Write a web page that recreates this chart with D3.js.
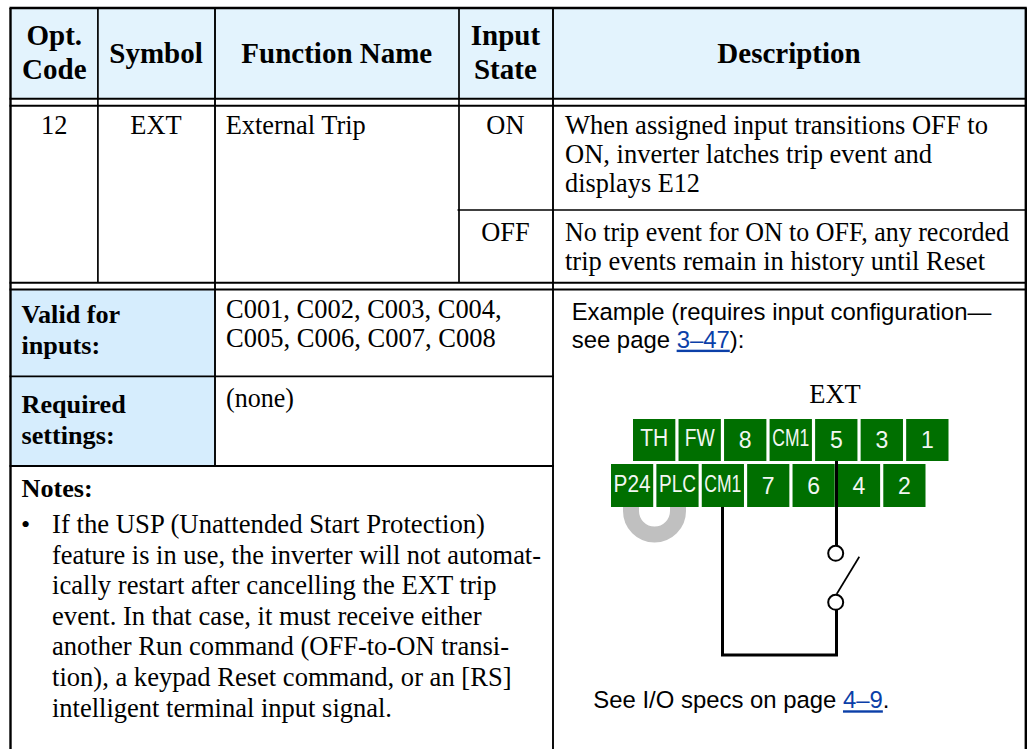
<!DOCTYPE html>
<meta charset="utf-8">
<script src="https://d3js.org/d3.v7.min.js"></script>
<style>
  body { margin: 0; background: #fff; }
  svg { display: block; }
  text { font-family: "Liberation Serif", serif; fill: #000; }
  .sans { font-family: "Liberation Sans", sans-serif; }
</style>
<div id="screen"></div>
<script>

  // table text
  var headers = ["Opt.|Code", "Symbol", "Function Name", "Input|State", "Description"];
  var rowCells = ["12", "EXT", "External Trip"];
  var inputStates = ["ON", "OFF"];
  var stateDescriptions = [
    ["When assigned input transitions OFF to", "ON, inverter latches trip event and", "displays E12"],
    ["No trip event for ON to OFF, any recorded", "trip events remain in history until Reset"]
  ];
  var sideLabels = ["Valid for|inputs:", "Required|settings:"];
  var sideValues = ["C001, C002, C003, C004,|C005, C006, C007, C008", "(none)"];
  var notesTitle = "Notes:";
  var noteLines = [
    "If the USP (Unattended Start Protection)",
    "feature is in use, the inverter will not automat-",
    "ically restart after cancelling the EXT trip",
    "event. In that case, it must receive either",
    "another Run command (OFF-to-ON transi-",
    "tion), a keypad Reset command, or an [RS]",
    "intelligent terminal input signal."
  ];

  // terminal strip
  var topTerminals = ["TH", "FW", "8", "CM1", "5", "3", "1"];
  var bottomTerminals = ["P24", "PLC", "CM1", "7", "6", "4", "2"];

  var width = 1028, height = 749;

  var colX = d3.scaleOrdinal()
      .domain(["left", "code", "symbol", "state", "split", "right"])
      .range([10.5, 97.9, 215, 459, 553, 1025.8]);
  var rowY = d3.scaleOrdinal()
      .domain(["top", "headBottom", "bodyTop", "stateSplit", "bodyBottom", "lowerTop", "valid", "required", "bottom"])
      .range([8, 98.7, 105.8, 210, 282.7, 289.5, 376.3, 466, 749]);
  var colCentre = d3.scaleOrdinal().domain(d3.range(5)).range([54.3, 156, 336.8, 505.4, 789]);

  // measured line lengths, the source text is set a bit looser than ours
  var descLength = d3.scaleOrdinal()
      .domain(stateDescriptions[0].concat(stateDescriptions[1]))
      .range([423, 367, 135, 444, 420]);
  var noteLength = d3.scaleOrdinal().domain(noteLines).range([433, 489, 444.5, 429.5, 457, 459.5, 340]);
  var valueLength = d3.scaleOrdinal()
      .domain(["C001, C002, C003, C004,", "C005, C006, C007, C008", "(none)"])
      .range([275.7, 269.7, 68]);

  var svg = d3.select("#screen")
      .append("svg")
      .attr("width", width)
      .attr("height", height);

  function rect(x0, y0, x1, y1, fill) {
      svg.append("rect")
          .attr("x", colX(x0)).attr("y", rowY(y0))
          .attr("width", colX(x1) - colX(x0))
          .attr("height", rowY(y1) - rowY(y0))
          .attr("fill", fill);
  }
  function hline(y, x0, x1, w) {
      svg.append("line")
          .attr("x1", colX(x0) - 1).attr("x2", colX(x1) + 1)
          .attr("y1", rowY(y)).attr("y2", rowY(y))
          .attr("stroke", "#000").attr("stroke-width", w);
  }
  function vline(x, y0, y1, w) {
      svg.append("line")
          .attr("x1", colX(x)).attr("x2", colX(x))
          .attr("y1", rowY(y0)).attr("y2", rowY(y1))
          .attr("stroke", "#000").attr("stroke-width", w);
  }
  function label(str, x, y, size, opts) {
      opts = opts || {};
      var t = svg.append("text")
          .attr("x", x).attr("y", y)
          .attr("font-size", size)
          .attr("font-weight", opts.bold ? "bold" : null)
          .attr("text-anchor", opts.anchor || "start")
          .attr("class", opts.sans ? "sans" : null)
          .text(str);
      if (opts.length) t.attr("textLength", opts.length).attr("lengthAdjust", "spacingAndGlyphs");
      return t;
  }

  // cell fills
  rect("left", "top", "right", "headBottom", "#e3f3fd");
  rect("left", "lowerTop", "symbol", "required", "#d6edfd");

  // ruling
  hline("top", "left", "right", 2.4);
  hline("headBottom", "left", "right", 2);
  hline("bodyTop", "left", "right", 2);
  hline("bodyBottom", "left", "right", 2);
  hline("lowerTop", "left", "right", 2);
  hline("valid", "left", "split", 1.8);
  hline("required", "left", "split", 1.8);
  svg.append("line")
      .attr("x1", colX("state") - 1.5).attr("x2", colX("right"))
      .attr("y1", rowY("stateSplit")).attr("y2", rowY("stateSplit"))
      .attr("stroke", "#000").attr("stroke-width", 1.3);

  vline("left", "top", "bottom", 2.4);
  vline("right", "top", "bottom", 2.4);
  vline("code", "top", "bodyBottom", 1.7);
  vline("symbol", "top", "required", 1.9);
  vline("state", "top", "bodyBottom", 1.7);
  vline("split", "top", "bottom", 1.9);

  // header row
  headers.forEach(function(h, i) {
      var parts = h.split("|");
      parts.forEach(function(p, k) {
          var y = parts.length > 1 ? 45 + k * 34.3 : 62.7;
          label(p, colCentre(i), y, 29, {bold: true, anchor: "middle"});
      });
  });

  // EXT row
  label(rowCells[0], colCentre(0), 133.5, 26.4, {anchor: "middle"});
  label(rowCells[1], colCentre(1), 133.5, 26.4, {anchor: "middle"});
  label(rowCells[2], 225.7, 133.5, 26.4);
  var stateY = d3.scaleOrdinal().domain(inputStates).range([133.5, 240.5]);
  inputStates.forEach(function(s, i) {
      label(s, colCentre(3), stateY(s), 26.4, {anchor: "middle"});
      stateDescriptions[i].forEach(function(line, k) {
          label(line, 565, stateY(s) + k * 29, 26.4, {length: descLength(line)});
      });
  });

  // lower left
  var sideLabelY = d3.scaleOrdinal().domain(sideLabels).range([322.7, 412.7]);
  var sideValueY = d3.scaleOrdinal().domain(sideValues).range([317.5, 407]);
  sideLabels.forEach(function(s) {
      s.split("|").forEach(function(p, k) {
          label(p, 21.5, sideLabelY(s) + k * 31, 26.2, {bold: true});
      });
  });
  sideValues.forEach(function(s) {
      s.split("|").forEach(function(p, k) {
          label(p, 226, sideValueY(s) + k * 29.5, 26.4, {length: valueLength(p)});
      });
  });

  label(notesTitle, 21.5, 496.7, 26.2, {bold: true});
  label("•", 21, 533, 26.2);
  var noteY = d3.scaleLinear().domain([0, noteLines.length - 1]).range([533, 716.7]);
  noteLines.forEach(function(line, i) {
      label(line, 52, noteY(i), 26.4, {length: noteLength(line)});
  });

  // right panel text
  label("Example (requires input configuration—", 571.7, 320, 23.9, {sans: true});
  var see = label("see page ", 571.7, 347.7, 23.9, {sans: true});
  see.append("tspan").attr("fill", "#0b3fa8").attr("text-decoration", "underline").text("3–47");
  see.append("tspan").text("):");
  label("EXT", 835, 402.7, 26.5, {anchor: "middle"});
  var specs = label("See I/O specs on page ", 593.3, 708.3, 23.9, {sans: true});
  specs.append("tspan").attr("fill", "#0b3fa8").attr("text-decoration", "underline").text("4–9");
  specs.append("tspan").text(".");

  // jumper behind the terminals
  var jumper = d3.path();
  jumper.moveTo(631, 500);
  jumper.lineTo(631, 511);
  jumper.arc(654.5, 511, 23.5, Math.PI, 0, true);
  jumper.lineTo(678, 500);
  svg.append("path")
      .attr("d", jumper.toString())
      .attr("fill", "none")
      .attr("stroke", "#c0c0c0")
      .attr("stroke-width", 16);

  // terminals
  var narrow = d3.scaleOrdinal().domain(["TH", "FW", "CM1", "P24", "PLC"]).range([28, 30, 37, 37, 37]);
  var narrowSet = new Set(narrow.domain());

  function terminals(names, x0, x1, y0, y1, tag) {
      var x = d3.scaleBand().domain(d3.range(names.length)).range([x0, x1]).paddingInner(0.07);
      var g = svg.append("g").attr("class", tag);
      g.selectAll("rect").data(names).join("rect")
          .attr("x", function(d, i) { return x(i); })
          .attr("y", y0)
          .attr("width", x.bandwidth())
          .attr("height", y1 - y0)
          .attr("fill", "#006f00");
      g.selectAll("text").data(names).join("text")
          .attr("class", "sans")
          .attr("x", function(d, i) { return x(i) + x.bandwidth() / 2; })
          .attr("y", function(d) { return narrowSet.has(d) ? y1 - 15.3 : y1 - 13.5; })
          .attr("text-anchor", "middle")
          .attr("font-size", 23)
          .attr("textLength", function(d) { return narrowSet.has(d) ? narrow(d) : null; })
          .attr("lengthAdjust", "spacingAndGlyphs")
          .style("fill", "#f2f7f2")
          .text(function(d) { return d; });
  }
  terminals(topTerminals, 633, 948.5, 419, 461, "top-row");
  terminals(bottomTerminals, 611, 925.5, 464, 507, "bottom-row");

  // wiring
  var wire = d3.path();
  wire.moveTo(722.5, 507);
  wire.lineTo(722.5, 655);
  wire.lineTo(836.5, 655);
  wire.lineTo(836.5, 610);
  wire.moveTo(836.5, 461);
  wire.lineTo(836.5, 546);
  svg.append("path")
      .attr("d", wire.toString())
      .attr("fill", "none")
      .attr("stroke", "#000")
      .attr("stroke-width", 3);

  svg.selectAll("circle.contact").data([553.3, 602.3]).join("circle")
      .attr("class", "contact")
      .attr("cx", 835.7)
      .attr("cy", function(d) { return d; })
      .attr("r", 7.5)
      .attr("fill", "#fff")
      .attr("stroke", "#000")
      .attr("stroke-width", 2);

  svg.append("line")
      .attr("x1", 836.7).attr("y1", 594)
      .attr("x2", 859.3).attr("y2", 556.7)
      .attr("stroke", "#000")
      .attr("stroke-width", 1.7);

</script>
